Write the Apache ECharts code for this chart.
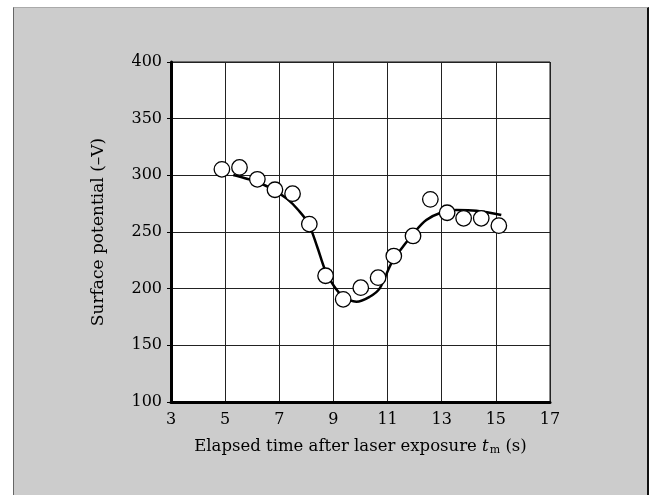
<!DOCTYPE html>
<html>
<head>
<meta charset="utf-8">
<script src="https://cdn.jsdelivr.net/npm/echarts@6/dist/echarts.min.js"></script>
<style>
html,body{margin:0;padding:0;background:#fff;}
#frame{position:absolute;left:13px;top:7px;width:633px;height:488px;background:#cccccc;border-left:1px solid #666;border-top:1px solid #aaa;border-right:2px solid #111;}
#chart{position:absolute;left:0;top:0;width:653px;height:495px;}
</style>
</head>
<body>
<div id="frame"></div>
<div id="chart"></div>
<script>
// measured points (elapsed time s, surface potential -V)
const pointX = [4.88, 5.53, 6.19, 6.84, 7.49, 8.11, 8.71, 9.36, 10.01, 10.65, 11.23, 11.94, 12.58, 13.2, 13.81, 14.46, 15.11];
const pointY = [305.3, 307, 296.5, 287.3, 283.8, 257, 211.4, 190.6, 200.9, 209.7, 228.8, 246.5, 278.8, 267, 262.1, 262.1, 255.6];
// fitted curve
const curveX = [5.3, 5.8, 6.3, 6.8, 7.3, 7.7, 8.07, 8.4, 8.7, 9.0, 9.36, 9.85, 10.34, 10.71, 11.14, 11.6, 12.0, 12.43, 12.92, 13.54, 14.28, 15.2];
const curveY = [300.3, 297, 293, 287, 279, 269.4, 257.7, 237, 216, 203, 193, 188.5, 192.9, 200.3, 222.4, 238, 250, 260.6, 266.5, 269.5, 268.8, 265];
const xTicks = [3, 5, 7, 9, 11, 13, 15, 17];
const yTicks = [100, 150, 200, 250, 300, 350, 400];

const font = 'DejaVu Serif';
const chart = echarts.init(document.getElementById('chart'), null, {renderer: 'canvas'});
chart.setOption({
  backgroundColor: 'transparent',
  animation: false,
  grid: {left: 171, top: 62, right: 103, bottom: 93, show: true, backgroundColor: '#fff', borderColor: '#111', borderWidth: 1},
  xAxis: {
    type: 'value', min: xTicks[0], max: xTicks[xTicks.length - 1], interval: 2,
    axisLine: {lineStyle: {color: '#000', width: 3}},
    axisTick: {show: false},
    axisLabel: {color: '#000', fontFamily: font, fontSize: 16, margin: 10},
    splitLine: {show: true, lineStyle: {color: '#222', width: 1}},
    name: '{a|Elapsed time after laser exposure }{i|t}{s|m}{a| (s)}',
    nameLocation: 'middle', nameGap: 36,
    nameTextStyle: {
      rich: {
        a: {fontFamily: font, fontSize: 16.5, color: '#000'},
        i: {fontFamily: font, fontSize: 16.5, fontStyle: 'italic', color: '#000'},
        s: {fontFamily: font, fontSize: 11, color: '#000', verticalAlign: 'bottom', padding: [7, 0, 0, 1]}
      }
    }
  },
  yAxis: {
    type: 'value', min: yTicks[0], max: yTicks[yTicks.length - 1], interval: 50,
    axisLine: {show: true, lineStyle: {color: '#000', width: 3}},
    axisTick: {show: true, length: 4, lineStyle: {color: '#000', width: 1}},
    axisLabel: {color: '#000', fontFamily: font, fontSize: 16, margin: 9},
    splitLine: {show: true, lineStyle: {color: '#222', width: 1}},
    name: 'Surface potential (–V)',
    nameLocation: 'middle', nameGap: 64,
    nameTextStyle: {fontFamily: font, fontSize: 17, color: '#000'}
  },
  series: [
    {
      type: 'line', data: curveX.map((x, i) => [x, curveY[i]]),
      smooth: 0.35, showSymbol: false, symbol: 'none',
      lineStyle: {color: '#000', width: 2.5}, z: 2
    },
    {
      type: 'scatter', data: pointX.map((x, i) => [x, pointY[i]]),
      symbol: 'circle', symbolSize: 15.5,
      itemStyle: {color: '#fff', borderColor: '#000', borderWidth: 1.3, opacity: 1}, z: 3
    }
  ]
});
</script>
</body>
</html>
